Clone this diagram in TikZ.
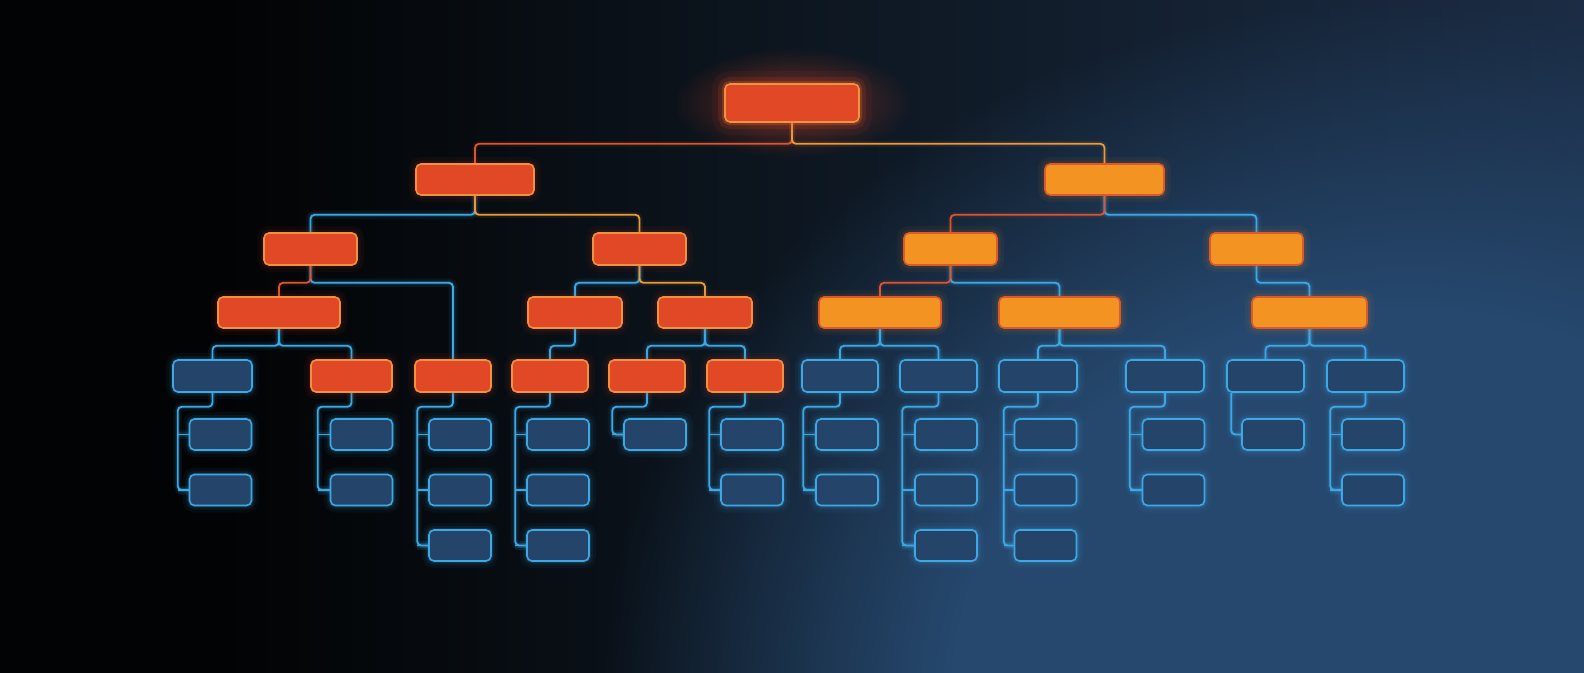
\documentclass[tikz,border=0pt]{standalone}
\usetikzlibrary{fadings}
\definecolor{bgL}{HTML}{020304}
\definecolor{bgM}{HTML}{0D1620}
\definecolor{bgR}{HTML}{1B2C44}
\definecolor{bgLight}{HTML}{26486E}
\definecolor{cred}{HTML}{E04826}
\definecolor{credb}{HTML}{F2923C}
\definecolor{camber}{HTML}{F39322}
\definecolor{camberb}{HTML}{E2572A}
\definecolor{cblue}{HTML}{3DA8E6}
\definecolor{cbluef}{HTML}{24446A}
\definecolor{lineRc}{HTML}{E0552D}
\definecolor{lineAc}{HTML}{EE9A3A}
\pgfdeclarehorizontalshading{bgsh}{100bp}{color(0bp)=(bgL); color(25bp)=(bgL); color(32bp)=(bgL); color(50bp)=(bgM); color(75bp)=(bgR); color(100bp)=(bgR)}
\pgfdeclareradialshading{flatfadesh}{\pgfpointorigin}{color(0bp)=(pgftransparent!0); color(14bp)=(pgftransparent!0); color(25bp)=(pgftransparent!100); color(50bp)=(pgftransparent!100)}
\pgfdeclarefading{flatglow}{\pgfuseshading{flatfadesh}}
\tikzfading[name=softglow, inner color=transparent!0, outer color=transparent!100]
\pgfdeclarelayer{bg}
\pgfsetlayers{bg,main}
\begin{document}
\begin{tikzpicture}[x=1pt,y=-1pt,
  box/.style={rounded corners=5pt, inner sep=0pt, line width=1.6pt},
  glowB/.style={preaction={draw=cblue, draw opacity=0.05, line width=14pt},
                preaction={draw=cblue, draw opacity=0.08, line width=8pt},
                preaction={draw=cblue, draw opacity=0.14, line width=4pt}},
  glowR/.style={preaction={draw=cred, draw opacity=0.05, line width=14pt},
                preaction={draw=cred, draw opacity=0.08, line width=7pt}},
  glowA/.style={preaction={draw=camber, draw opacity=0.05, line width=14pt},
                preaction={draw=camber, draw opacity=0.08, line width=7pt}},
  redbox/.style={box, fill=cred, draw=credb, glowR},
  amberbox/.style={box, fill=camber, draw=camberb, glowA},
  bluebox/.style={box, fill=cbluef, draw=cblue, glowB},
  lvlA/.style={minimum width=#1, minimum height=31pt},
  lvlB/.style={minimum width=#1, minimum height=32pt},
  leaf/.style={bluebox, minimum width=62pt, minimum height=31pt},
  conn/.style={rounded corners=4pt, line width=1.8pt},
  lineB/.style={conn, draw=cblue,
                preaction={draw=cblue, draw opacity=0.07, line width=9pt},
                preaction={draw=cblue, draw opacity=0.14, line width=4.5pt}},
  lineR/.style={conn, draw=lineRc,
                preaction={draw=lineRc, draw opacity=0.08, line width=6pt}},
  lineA/.style={conn, draw=lineAc,
                preaction={draw=lineAc, draw opacity=0.08, line width=6pt}}
]
\useasboundingbox (0,0) rectangle (1584,672);
\begin{pgfonlayer}{bg}
  \shade[shading=bgsh] (0,0) rectangle (1584,672);
  \fill[bgLight, path fading=flatglow] (1400,700) ellipse (800 and 700);
  \fill[cred, path fading=softglow, fill opacity=0.45] (792,103) ellipse (120 and 55);
\end{pgfonlayer}

% root
\node[redbox, minimum width=134pt, minimum height=38pt,
  preaction={draw=cred, draw opacity=0.06, line width=26pt},
  preaction={draw=cred, draw opacity=0.10, line width=14pt},
  preaction={draw=credb, draw opacity=0.18, line width=6pt}] (root) at (792,103) {};
% level 1
\node[redbox, lvlA=118pt] (L1) at (475,179.5) {};
\node[amberbox, lvlA=119pt] (R1) at (1104.5,179.5) {};
% level 2
\node[redbox, lvlB=93pt] (L2a) at (310.5,249) {};
\node[redbox, lvlB=93pt] (L2b) at (639.5,249) {};
\node[amberbox, lvlB=93pt] (R2a) at (950.5,249) {};
\node[amberbox, lvlB=93pt] (R2b) at (1256.5,249) {};
% level 3
\node[redbox, lvlA=122pt] (L3a) at (279,312.5) {};
\node[redbox, lvlA=94pt] (L3b) at (575,312.5) {};
\node[redbox, lvlA=94pt] (L3c) at (705,312.5) {};
\node[amberbox, lvlA=122pt] (R3a) at (880,312.5) {};
\node[amberbox, lvlA=121pt] (R3b) at (1059.5,312.5) {};
\node[amberbox, lvlA=115pt] (R3c) at (1309.5,312.5) {};
% level 4
\node[bluebox, lvlB=79pt] (L4a) at (212.5,376) {};
\node[redbox, lvlB=81pt] (L4b) at (351.5,376) {};
\node[redbox, lvlB=76pt] (L4c) at (453,376) {};
\node[redbox, lvlB=76pt] (L4d) at (550,376) {};
\node[redbox, lvlB=76pt] (L4e) at (647,376) {};
\node[redbox, lvlB=76pt] (L4f) at (745,376) {};
\node[bluebox, lvlB=76pt] (R4a) at (840,376) {};
\node[bluebox, lvlB=77pt] (R4b) at (938.5,376) {};
\node[bluebox, lvlB=78pt] (R4c) at (1038,376) {};
\node[bluebox, lvlB=78pt] (R4d) at (1165,376) {};
\node[bluebox, lvlB=77pt] (R4e) at (1265.5,376) {};
\node[bluebox, lvlB=77pt] (R4f) at (1365.5,376) {};
% leaves
\foreach \nm/\cx/\k in {La/220.5/2, Lb/361.5/2, Lc/460/3, Ld/558/3, Le/655/1, Lf/752/2,
                        Ra/847/2, Rb/946/3, Rc/1045.5/3, Rd/1173.5/2, Re/1273/1, Rf/1373/2}{
  \foreach \i in {1,...,\k}{
    \node[leaf] (\nm\i) at (\cx,{379+55.5*\i}) {};
  }
}

\begin{pgfonlayer}{bg}
  % root
  \draw[lineR] (root.south) -- ++(0,21) -| (L1.north);
  \draw[lineA] (root.south) -- ++(0,21) -| (R1.north);
  % level 1 -> 2
  \draw[lineB] (L1.south) -- ++(0,19) -| (L2a.north);
  \draw[lineA] (L1.south) -- ++(0,19) -| (L2b.north);
  \draw[lineB] (R1.south) -- ++(0,19) -| (R2b.north);
  \draw[lineR] (R1.south) -- ++(0,19) -| (R2a.north);
  % level 2 -> 3
  \draw[lineB] (L2a.south) -- ++(0,17) -| (L4c.north);
  \draw[lineR] (L2a.south) -- ++(0,17) -| (L3a.north);
  \draw[lineB] (L2b.south) -- ++(0,17) -| (L3b.north);
  \draw[lineA] (L2b.south) -- ++(0,17) -| (L3c.north);
  \draw[lineB] (R2a.south) -- ++(0,17) -| (R3b.north);
  \draw[lineR] (R2a.south) -- ++(0,17) -| (R3a.north);
  \draw[lineB] (R2b.south) -- ++(0,17) -| (R3c.north);
  % level 3 -> 4
  \foreach \p/\c in {L3a/L4a, L3a/L4b, L3b/L4d, L3c/L4e, L3c/L4f,
                     R3a/R4a, R3a/R4b, R3b/R4c, R3b/R4d, R3c/R4e, R3c/R4f}{
    \draw[lineB] (\p.south) -- ++(0,17) -| (\c.north);
  }
  % level 4 -> leaves
  \foreach \p/\nm/\k/\off in {L4a/La/2/11, L4b/Lb/2/12, L4c/Lc/3/11, L4d/Ld/3/11, L4e/Le/1/11, L4f/Lf/2/11,
                         R4a/Ra/2/12, R4b/Rb/3/12, R4c/Rc/3/10, R4d/Rd/2/12, R4f/Rf/2/11}{
    \draw[lineB] (\p.south) -- ++(0,14) -| ([xshift=-\off pt]\nm\k.west) -- (\nm\k.west);
    \foreach \i in {1,...,\k}{
      \draw[lineB] (\nm\i.west) -- ++(-\off,0);
    }
  }
  \draw[lineB] ([xshift=5pt]R4e.south west) |- (Re1.west);
\end{pgfonlayer}
\end{tikzpicture}
\end{document}
